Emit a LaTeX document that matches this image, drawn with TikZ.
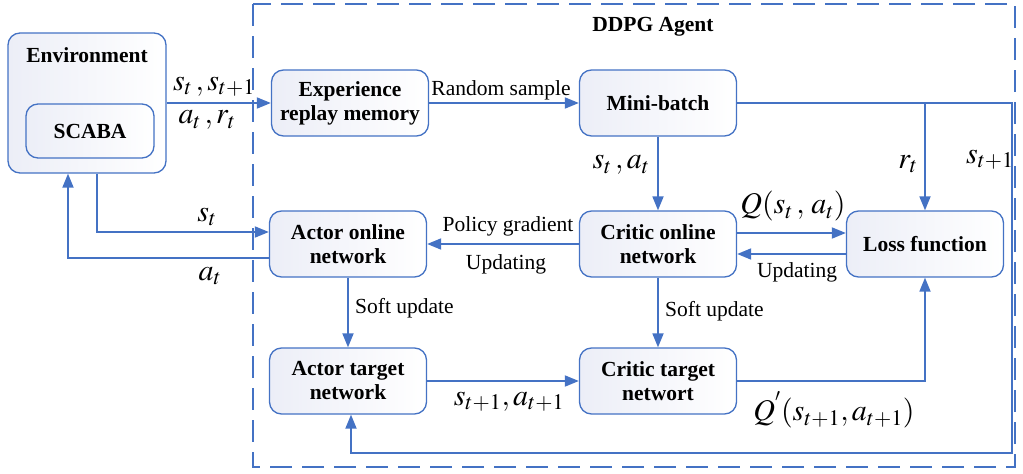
\documentclass[tikz,border=0pt]{standalone}
\usepackage{mathptmx}
\usepackage[no-math]{fontspec}
\setmainfont{Liberation Serif}
\usetikzlibrary{arrows.meta}
\definecolor{lineblue}{HTML}{4472C4}
\definecolor{gradc}{HTML}{ECEEF7}
\tikzset{
  box/.style={draw=lineblue, line width=1.3pt, rounded corners=12pt, left color=gradc, right color=white,
    minimum width=157pt, minimum height=66pt, align=center, inner sep=2pt,
    font=\fontsize{21.5}{24}\selectfont\bfseries},
  conn/.style={draw=lineblue, line width=1.8pt},
  arr/.style={conn, -{Triangle[length=14pt,width=11pt]}},
  lab/.style={font=\fontsize{21.5}{23}\selectfont, inner sep=0pt},
  ml/.style={font=\fontsize{30}{32}\selectfont, inner sep=0pt},
}
\begin{document}
\begin{tikzpicture}[x=1pt,y=-1pt]
\useasboundingbox (0,0) rectangle (1023,474);
% agent frame
\draw[draw=lineblue, line width=1.3pt, dash pattern=on 22pt off 10pt] (253,4) rectangle (1015,467);
\node[font=\fontsize{21.5}{23}\selectfont\bfseries] (agentlab) at (653,27) {DDPG Agent};
% environment
\node[box, minimum width=158pt, minimum height=140pt] (env) at (87,103) {};
\node[font=\fontsize{21.5}{23}\selectfont\bfseries] (envlab) at (87,55) {Environment};
\node[box, minimum width=128pt, minimum height=54pt] (sc) at (90,131) {SCABA};
% boxes
\node[box] (exp) at (350,103) {Experience\\replay memory};
\node[box] (mb) at (658,103) {Mini-batch};
\node[box] (ao) at (348,244) {Actor online\\network};
\node[box] (co) at (658,244) {Critic online\\network};
\node[box] (lf) at (925,244) {Loss function};
\node[box] (at) at (348,381) {Actor target\\network};
\node[box] (ct) at (658,381) {Critic target\\networt};
% coordinates
\coordinate (c1) at (1012,103);
\coordinate (c2) at (1012,453);
\coordinate (c3) at (351,453);
% connectors
\draw[arr] (env.east) -- (exp.west);
\node[ml] (l1) at (214,87) {$s_t\,,s_{t+1}$};
\node[ml] (l2) at (207,120) {$a_t\,,r_t$};
\draw[arr] (exp.east) -- (mb.west);
\node[lab] (l3) at (501,90) {Random sample};
\draw[arr] (mb.south) -- (co.north);
\node[ml] (l4) at (621,165) {$s_t\,,a_t$};
\draw[arr] (mb.east -| lf.north) -- (lf.north);
\draw[arr] (mb.east) -- (c1) -- (c2) -- (c3) -- (c3 |- at.south);
\node[ml] (l5) at (908,164) {$r_t$};
\node[ml] (l6) at (990,160) {$s_{t+1}$};
\draw[arr] ([yshift=11pt]co.east) -- ([yshift=11pt]co.east -| lf.west);
\draw[arr] ([yshift=-10pt]lf.west) -- ([yshift=-10pt]lf.west -| co.east);
\node[ml] (l7) at (793,206) {$Q(s_t\,,\,a_t)$};
\node[lab] (l8) at (797,272) {Updating};
\draw[arr] (co.west) -- (ao.east);
\node[lab] (l9) at (508,226) {Policy gradient};
\node[lab] (l10) at (506,264) {Updating};
\draw[arr] (ao.south) -- (at.north);
\node[lab, anchor=west] (l11) at (355,308) {Soft update};
\draw[arr] (co.south) -- (ct.north);
\node[lab, anchor=west] (l12) at (665,311) {Soft update};
\draw[arr] (at.east) -- (ct.west);
\node[ml] (l13) at (509,402) {$s_{t+1},a_{t+1}$};
\draw[arr] (ct.east) -| (lf.south);
\node[ml] (l14) at (834,410) {$Q^{'}(s_{t+1},a_{t+1})$};
\draw[arr] ([xshift=10pt]env.south) |- ([yshift=12pt]ao.west);
\node[ml] (l15) at (207,217) {$s_t$};
\draw[arr] ([yshift=-14pt]ao.west) -| ([xshift=-19pt]env.south);
\node[ml] (l16) at (210,276) {$a_t$};
\end{tikzpicture}
\end{document}
